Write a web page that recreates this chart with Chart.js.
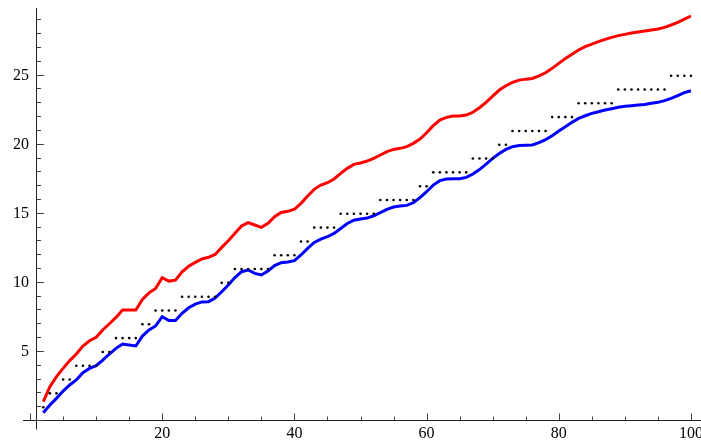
<!DOCTYPE html>
<html>
<head>
<meta charset="utf-8">
<script src="https://cdn.jsdelivr.net/npm/chart.js@4.4.0/dist/chart.umd.min.js"></script>
<style>
  html, body { margin: 0; padding: 0; background: #fff; }
  #wrap { width: 701px; height: 441px; }
</style>
</head>
<body>
<div id="wrap"><canvas id="primeChart" width="701" height="441"></canvas></div>
<script>
// n from 2 to 100
var nValues = [
    2, 3, 4, 5, 6, 7, 8, 9, 10, 11,
    12, 13, 14, 15, 16, 17, 18, 19, 20, 21,
    22, 23, 24, 25, 26, 27, 28, 29, 30, 31,
    32, 33, 34, 35, 36, 37, 38, 39, 40, 41,
    42, 43, 44, 45, 46, 47, 48, 49, 50, 51,
    52, 53, 54, 55, 56, 57, 58, 59, 60, 61,
    62, 63, 64, 65, 66, 67, 68, 69, 70, 71,
    72, 73, 74, 75, 76, 77, 78, 79, 80, 81,
    82, 83, 84, 85, 86, 87, 88, 89, 90, 91,
    92, 93, 94, 95, 96, 97, 98, 99, 100
];

// black dots
var primeCount = [
    1, 2, 2, 3, 3, 4, 4, 4, 4, 5,
    5, 6, 6, 6, 6, 7, 7, 8, 8, 8,
    8, 9, 9, 9, 9, 9, 9, 10, 10, 11,
    11, 11, 11, 11, 11, 12, 12, 12, 12, 13,
    13, 14, 14, 14, 14, 15, 15, 15, 15, 15,
    15, 16, 16, 16, 16, 16, 16, 17, 17, 18,
    18, 18, 18, 18, 18, 19, 19, 19, 19, 20,
    20, 21, 21, 21, 21, 21, 21, 22, 22, 22,
    22, 23, 23, 23, 23, 23, 23, 24, 24, 24,
    24, 24, 24, 24, 24, 25, 25, 25, 25
];

// red curve
var upperCurve = [
    1.40, 2.48, 3.21, 3.81, 4.37, 4.85, 5.43, 5.81, 6.06, 6.59,
    7.04, 7.50, 8.03, 8.03, 8.03, 8.80, 9.28, 9.60, 10.37, 10.13,
    10.20, 10.80, 11.20, 11.48, 11.73, 11.85, 12.06, 12.57, 13.05, 13.59,
    14.12, 14.36, 14.19, 14.02, 14.31, 14.79, 15.10, 15.18, 15.33, 15.76,
    16.29, 16.77, 17.08, 17.25, 17.52, 17.93, 18.29, 18.58, 18.68, 18.82,
    19.01, 19.26, 19.50, 19.66, 19.74, 19.86, 20.10, 20.41, 20.87, 21.38,
    21.79, 21.98, 22.08, 22.08, 22.15, 22.35, 22.68, 23.07, 23.52, 23.96,
    24.27, 24.51, 24.68, 24.75, 24.80, 24.99, 25.21, 25.53, 25.89, 26.25,
    26.56, 26.86, 27.10, 27.29, 27.46, 27.63, 27.77, 27.90, 27.99, 28.09,
    28.16, 28.23, 28.30, 28.38, 28.50, 28.67, 28.86, 29.10, 29.32
];

// blue curve
var lowerCurve = [
    0.60, 1.16, 1.64, 2.17, 2.61, 2.97, 3.50, 3.81, 4.00, 4.41,
    4.85, 5.26, 5.57, 5.50, 5.43, 6.15, 6.59, 6.88, 7.55, 7.27,
    7.27, 7.80, 8.20, 8.46, 8.62, 8.64, 8.90, 9.36, 9.84, 10.38,
    10.81, 10.93, 10.69, 10.57, 10.86, 11.25, 11.46, 11.51, 11.61, 12.02,
    12.50, 12.93, 13.17, 13.34, 13.58, 13.94, 14.30, 14.54, 14.62, 14.69,
    14.86, 15.08, 15.32, 15.49, 15.56, 15.61, 15.80, 16.17, 16.60, 17.08,
    17.40, 17.52, 17.54, 17.54, 17.64, 17.88, 18.20, 18.60, 19.01, 19.37,
    19.66, 19.86, 19.95, 19.97, 19.98, 20.15, 20.37, 20.65, 20.99, 21.30,
    21.62, 21.91, 22.10, 22.27, 22.39, 22.51, 22.61, 22.71, 22.78, 22.83,
    22.87, 22.92, 23.00, 23.07, 23.19, 23.36, 23.55, 23.77, 23.91
];

var xTickLabels = [20, 40, 60, 80, 100];
var yTickLabels = [5, 10, 15, 20, 25];

var serifFamily = "Liberation Serif";
Chart.defaults.font.family = serifFamily;

function toPoints(ys) {
    return nValues.map(function (n, i) {
        return { x: n, y: ys[i] };
    });
}

// Mathematica style axes: crossing at (1, 0), ticks pointing inwards
var axesPlugin = {
    id: "mathAxes",
    beforeDatasetsDraw: function (chart) {
        var ctx = chart.ctx;
        var xs = chart.scales.x;
        var ys = chart.scales.y;
        var ax = Math.floor(xs.getPixelForValue(1)) + 0.5;
        var ay = Math.round(ys.getPixelForValue(0)) - 0.5;
        ctx.save();
        ctx.lineWidth = 1;
        ctx.strokeStyle = "#222";
        ctx.beginPath();
        ctx.moveTo(23, ay);
        ctx.lineTo(chart.width, ay);
        ctx.moveTo(ax, chart.chartArea.top);
        ctx.lineTo(ax, ay + 9);
        ctx.stroke();

        ctx.strokeStyle = "#444";
        ctx.beginPath();
        for (var v = 0; v <= 100; v += 5) {
            var px = Math.round(xs.getPixelForValue(v)) + 0.5;
            var len = v % 20 === 0 ? 7 : 4;
            ctx.moveTo(px, ay);
            ctx.lineTo(px, ay - len);
        }
        for (var w = 0; w <= 29; w++) {
            var py = Math.round(ys.getPixelForValue(w)) - 0.5;
            var l = w % 5 === 0 ? 7.5 : 4.5;
            ctx.moveTo(ax, py);
            ctx.lineTo(ax + l, py);
        }
        ctx.stroke();
        ctx.restore();
    },
};

var tickFont = { family: serifFamily, size: 16 };

var primeChart = new Chart(document.getElementById("primeChart").getContext("2d"), {
    type: "line",
    data: {
        datasets: [
            {
                label: "dots",
                data: toPoints(primeCount),
                showLine: false,
                pointRadius: 1.3,
                pointHoverRadius: 1.3,
                pointBackgroundColor: "#000",
                pointBorderWidth: 0,
                clip: false,
            },
            {
                label: "upper",
                data: toPoints(upperCurve),
                borderColor: "#ff0000",
                borderWidth: 3,
                pointRadius: 0,
                pointHoverRadius: 0,
                fill: false,
                tension: 0,
                clip: false,
            },
            {
                label: "lower",
                data: toPoints(lowerCurve),
                borderColor: "#0000ff",
                borderWidth: 3,
                pointRadius: 0,
                pointHoverRadius: 0,
                fill: false,
                tension: 0,
                clip: false,
            },
        ],
    },
    options: {
        responsive: false,
        animation: false,
        events: [],
        layout: { autoPadding: false, padding: { top: 8, left: 0, right: 0, bottom: 0 } },
        plugins: {
            legend: { display: false },
            tooltip: { enabled: false },
        },
        scales: {
            x: {
                type: "linear",
                min: 0.9,
                max: 101.52,
                grid: { display: false, drawTicks: false },
                border: { display: false },
                ticks: { font: tickFont, color: "#000", padding: 3, maxRotation: 0, autoSkip: false },
                afterBuildTicks: function (s) {
                    s.ticks = xTickLabels.map(function (v) { return { value: v }; });
                },
                afterFit: function (s) {
                    s.height = 20;
                    s.paddingLeft = 0;
                    s.paddingRight = 0;
                },
            },
            y: {
                type: "linear",
                min: 0,
                max: 29.9,
                grid: { display: false, drawTicks: false },
                border: { display: false },
                ticks: { font: tickFont, color: "#000", padding: 7, autoSkip: false },
                afterBuildTicks: function (s) {
                    s.ticks = yTickLabels.map(function (v) { return { value: v }; });
                },
                afterFit: function (s) {
                    s.width = 36;
                    s.paddingTop = 0;
                    s.paddingBottom = 0;
                },
            },
        },
    },
    plugins: [axesPlugin],
});
</script>
</body>
</html>
